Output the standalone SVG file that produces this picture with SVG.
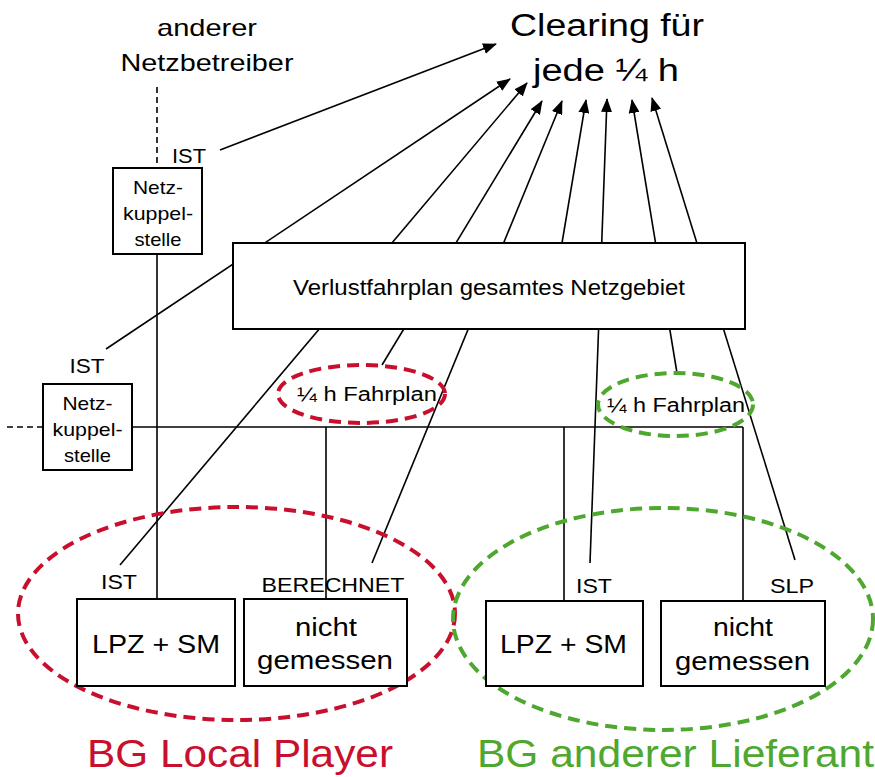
<svg xmlns="http://www.w3.org/2000/svg" width="875" height="777" viewBox="0 0 875 777">
<style>
text{font-family:"Liberation Sans",Arial,sans-serif;fill:#000;text-anchor:middle}
.box{fill:#fff;stroke:#000;stroke-width:2}
.ln{fill:none;stroke:#000;stroke-width:1.6}
.dash{fill:none;stroke:#000;stroke-width:1.6;stroke-dasharray:6 4}
.arr{fill:none;stroke:#000;stroke-width:1.6;marker-end:url(#ah)}
.red{fill:none;stroke:#C8102E;stroke-width:4;stroke-dasharray:12 7}
.grn{fill:none;stroke:#4EA72E;stroke-width:4;stroke-dasharray:12 7}
</style>
<defs>
<marker id="ah" markerUnits="userSpaceOnUse" markerWidth="14" markerHeight="11" refX="13" refY="5.5" orient="auto">
<path d="M0,0 L14,5.5 L0,11 z" fill="#000"/>
</marker>
</defs>
<rect width="875" height="777" fill="#fff"/>

<g id="connectors">
<line class="dash" x1="157" y1="87" x2="157" y2="168"/>
<line class="dash" x1="7" y1="427" x2="43" y2="427"/>
<line class="ln" x1="157" y1="254" x2="157" y2="599"/>
<line class="ln" x1="132" y1="427" x2="743" y2="427"/>
<line class="ln" x1="326" y1="427" x2="326" y2="599"/>
<line class="ln" x1="564" y1="427" x2="564" y2="601"/>
<line class="ln" x1="743" y1="427" x2="743" y2="601"/>
<line class="arr" x1="220" y1="150" x2="496" y2="44"/>
<line class="arr" x1="106" y1="349" x2="510" y2="79"/>
<line class="arr" x1="120" y1="565" x2="527" y2="83"/>
<line class="arr" x1="382" y1="365" x2="542" y2="101"/>
<line class="arr" x1="372" y1="563" x2="562" y2="101"/>
<line class="arr" x1="562" y1="243" x2="586" y2="100"/>
<line class="arr" x1="590" y1="563" x2="607" y2="99"/>
<line class="arr" x1="677" y1="373" x2="632" y2="100"/>
<line class="arr" x1="795" y1="560" x2="652" y2="98"/>
</g>

<g id="anderer-netzbetreiber">
<text x="207" y="36" font-size="24" textLength="100" lengthAdjust="spacingAndGlyphs">anderer</text>
<text x="207" y="71" font-size="24" textLength="173" lengthAdjust="spacingAndGlyphs">Netzbetreiber</text>
</g>

<g id="clearing">
<text x="607" y="36" font-size="31" textLength="194" lengthAdjust="spacingAndGlyphs">Clearing für</text>
<text x="606" y="81" font-size="31" textLength="146" lengthAdjust="spacingAndGlyphs">jede ¼ h</text>
</g>

<g id="nks-top">
<text x="189" y="163" font-size="21" textLength="34" lengthAdjust="spacingAndGlyphs">IST</text>
<rect class="box" x="113" y="168" width="89" height="86"/>
<text x="158" y="194" font-size="19" textLength="50" lengthAdjust="spacingAndGlyphs">Netz-</text>
<text x="158" y="220" font-size="19" textLength="70" lengthAdjust="spacingAndGlyphs">kuppel-</text>
<text x="158" y="246" font-size="19" textLength="47" lengthAdjust="spacingAndGlyphs">stelle</text>
</g>

<g id="nks-left">
<text x="87" y="373" font-size="21" textLength="35" lengthAdjust="spacingAndGlyphs">IST</text>
<rect class="box" x="43" y="384" width="89" height="86"/>
<text x="87.5" y="410" font-size="19" textLength="50" lengthAdjust="spacingAndGlyphs">Netz-</text>
<text x="87.5" y="436" font-size="19" textLength="70" lengthAdjust="spacingAndGlyphs">kuppel-</text>
<text x="87.5" y="462" font-size="19" textLength="47" lengthAdjust="spacingAndGlyphs">stelle</text>
</g>

<g id="verlustfahrplan">
<rect class="box" x="233" y="243" width="512" height="86"/>
<text x="489" y="295" font-size="22" textLength="392" lengthAdjust="spacingAndGlyphs">Verlustfahrplan gesamtes Netzgebiet</text>
</g>

<g id="fahrplan-red">
<ellipse class="red" cx="361.5" cy="394" rx="83.5" ry="29"/>
<text x="367" y="401" font-size="20" textLength="140" lengthAdjust="spacingAndGlyphs">¼ h Fahrplan</text>
</g>

<g id="fahrplan-green">
<ellipse class="grn" cx="675.5" cy="404.5" rx="77.5" ry="31.5"/>
<text x="676" y="412" font-size="20" textLength="138" lengthAdjust="spacingAndGlyphs">¼ h Fahrplan</text>
</g>

<g id="bg-local-player">
<ellipse class="red" cx="236.5" cy="613.5" rx="218.5" ry="106.5"/>
<text x="240" y="767" font-size="38" fill="#C8102E" style="fill:#C8102E" textLength="306" lengthAdjust="spacingAndGlyphs">BG Local Player</text>
</g>

<g id="bg-anderer-lieferant">
<ellipse class="grn" cx="663" cy="619" rx="210" ry="111"/>
<text x="675.5" y="767" font-size="38" style="fill:#4EA72E" textLength="397" lengthAdjust="spacingAndGlyphs">BG anderer Lieferant</text>
</g>

<g id="lpz-red">
<text x="119" y="589" font-size="21" textLength="36" lengthAdjust="spacingAndGlyphs">IST</text>
<rect class="box" x="77" y="599" width="158" height="87"/>
<text x="156" y="653" font-size="26" textLength="128" lengthAdjust="spacingAndGlyphs">LPZ + SM</text>
</g>

<g id="nicht-red">
<rect class="box" x="244" y="599" width="163" height="87"/>
<text x="326" y="636" font-size="25" textLength="62" lengthAdjust="spacingAndGlyphs">nicht</text>
<text x="325" y="669" font-size="25" textLength="136" lengthAdjust="spacingAndGlyphs">gemessen</text>
<text x="333" y="592" font-size="21" textLength="143" lengthAdjust="spacingAndGlyphs">BERECHNET</text>
</g>

<g id="lpz-green">
<text x="594" y="593" font-size="21" textLength="36" lengthAdjust="spacingAndGlyphs">IST</text>
<rect class="box" x="486" y="601" width="157" height="85"/>
<text x="563.5" y="653" font-size="26" textLength="127" lengthAdjust="spacingAndGlyphs">LPZ + SM</text>
</g>

<g id="nicht-green">
<text x="792" y="593" font-size="21" textLength="44" lengthAdjust="spacingAndGlyphs">SLP</text>
<rect class="box" x="661" y="601" width="164" height="85"/>
<text x="743" y="636" font-size="25" textLength="60" lengthAdjust="spacingAndGlyphs">nicht</text>
<text x="742.5" y="670" font-size="25" textLength="135" lengthAdjust="spacingAndGlyphs">gemessen</text>
</g>
</svg>
